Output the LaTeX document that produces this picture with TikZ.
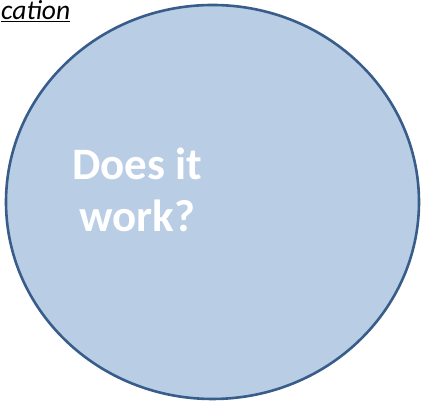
\documentclass[tikz,border=0pt]{standalone}
\usepackage{fontspec}
\setmainfont{Carlito}
\usetikzlibrary{shapes.geometric}
\definecolor{fillblue}{HTML}{B9CDE5}
\definecolor{edgeblue}{HTML}{385D8A}
\tikzset{
  bigcircle/.style={ellipse, draw=edgeblue, line width=2.6pt, fill=fillblue, inner sep=0pt},
  bigtext/.style={text=white, font=\fontsize{45}{52}\selectfont\bfseries, align=center},
  toptext/.style={font=\fontsize{27.5}{30}\selectfont\itshape, inner sep=0pt}
}
\begin{document}
\begin{tikzpicture}[x=1pt,y=1pt]
\useasboundingbox (0,0) rectangle (424,403);
\node[bigcircle, minimum width=413pt, minimum height=394pt] (circ) at (212.5,201) {};
\node[toptext, anchor=base west] (title) at (1,383) {\underline{cation}};
\node[bigtext] (q) at (137,213.5) {Does it\\work?};
\end{tikzpicture}
\end{document}
